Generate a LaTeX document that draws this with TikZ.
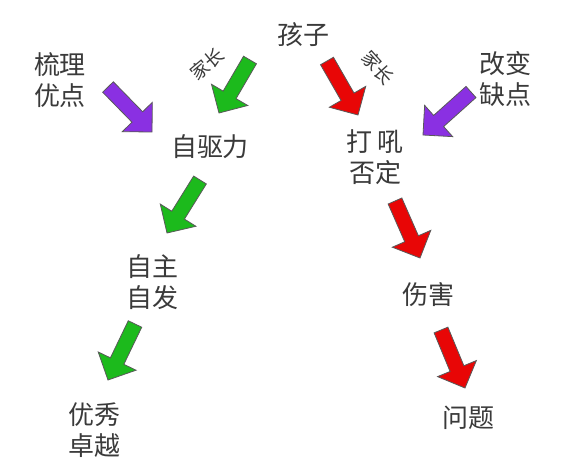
\documentclass[tikz,border=0pt]{standalone}
\usepackage{fontspec}
\setmainfont{Noto Sans CJK SC}
\usetikzlibrary{calc}

\definecolor{arrowgreen}{RGB}{28,186,28}
\definecolor{arrowred}{RGB}{232,6,6}
\definecolor{arrowpurple}{RGB}{138,48,226}
\definecolor{textgray}{RGB}{58,58,58}

\tikzset{
  word/.style={inner sep=0.75pt, text=textgray, font=\fontsize{19.5}{23}\selectfont, align=center},
  smallword/.style={inner sep=0pt, text=textgray, font=\fontsize{14}{16}\selectfont},
  fatarrow/.style={draw=black!65, line width=0.6pt, line join=miter, fill=#1,
    to path={
      ($(\tikztostart)!5.6pt!90:(\tikztotarget)$)
      -- ($(\tikztotarget)!15.75pt!(\tikztostart)!5.6pt!-90:(\tikztostart)$)
      -- ($(\tikztotarget)!15.75pt!(\tikztostart)!15.75pt!-90:(\tikztostart)$)
      -- (\tikztotarget)
      -- ($(\tikztotarget)!15.75pt!(\tikztostart)!15.75pt!90:(\tikztostart)$)
      -- ($(\tikztotarget)!15.75pt!(\tikztostart)!5.6pt!90:(\tikztostart)$)
      -- ($(\tikztostart)!5.6pt!-90:(\tikztotarget)$) -- cycle}},
}

\begin{document}
\begin{tikzpicture}[x=0.75pt,y=0.75pt,yscale=-1,xscale=1]
\useasboundingbox (0,0) rectangle (565,471);

% Text Node
\node [word] (kid) at (303,35) {孩子};
% Text Node
\node [smallword, rotate=40] (parentL) at (207,64) {家长};
% Text Node
\node [smallword, rotate=-48] (parentR) at (378,68) {家长};
% Text Node
\node [word] (merit) at (60,80) {梳理\\优点};
% Text Node
\node [word] (fault) at (505,79) {改变\\缺点};
% Text Node
\node [word] (drive) at (210,147) {自驱力};
% Text Node
\node [word] (scold) at (375,157) {打 吼\\否定};
% Text Node
\node [word] (self) at (152,282) {自主\\自发};
% Text Node
\node [word] (hurt) at (428,295) {伤害};
% Text Node
\node [word] (excel) at (95,430) {优秀\\卓越};
% Text Node
\node [word] (issue) at (468,418) {问题};

%Arrow ends
\coordinate (pa1s) at (108,87);  \coordinate (pa1e) at (152,132);
\coordinate (ga1s) at (250,60);  \coordinate (ga1e) at (219,113);
\coordinate (ra1s) at (327,61);  \coordinate (ra1e) at (358,115);
\coordinate (pa2s) at (471,92);  \coordinate (pa2e) at (423,135);
\coordinate (ga2s) at (200,180); \coordinate (ga2e) at (167,233);
\coordinate (ga3s) at (135,324); \coordinate (ga3e) at (108,380);
\coordinate (ra2s) at (395,201); \coordinate (ra2e) at (420,258);
\coordinate (ra3s) at (441,330); \coordinate (ra3e) at (465,388);

%Block Arrows
\draw [fatarrow=arrowpurple] (pa1s) to (pa1e);
\draw [fatarrow=arrowpurple] (pa2s) to (pa2e);
\draw [fatarrow=arrowgreen] (ga1s) to (ga1e);
\draw [fatarrow=arrowgreen] (ga2s) to (ga2e);
\draw [fatarrow=arrowgreen] (ga3s) to (ga3e);
\draw [fatarrow=arrowred] (ra1s) to (ra1e);
\draw [fatarrow=arrowred] (ra2s) to (ra2e);
\draw [fatarrow=arrowred] (ra3s) to (ra3e);

\end{tikzpicture}
\end{document}
